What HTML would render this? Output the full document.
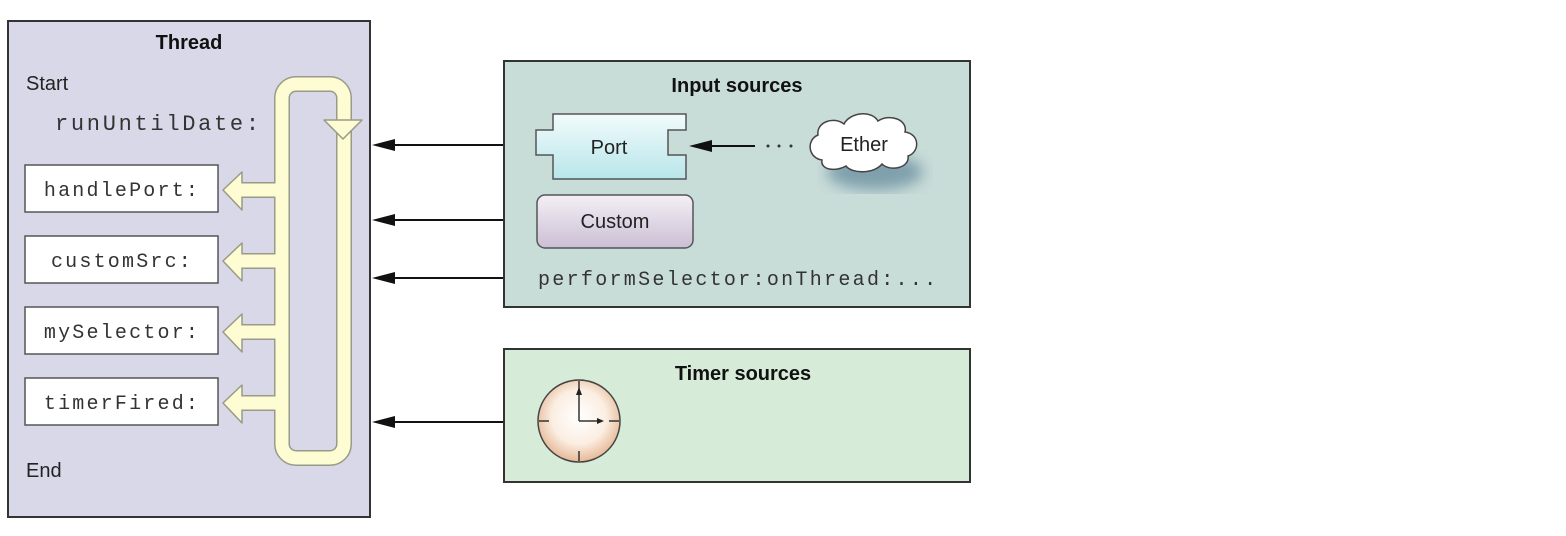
<!DOCTYPE html>
<html><head><style>
html,body{margin:0;padding:0;background:#fff;}
svg{display:block}
.t{font-family:"Liberation Sans",sans-serif;font-weight:bold;font-size:20px;fill:#111}
.s{font-family:"Liberation Sans",sans-serif;font-size:20px;fill:#222}
.m{font-family:"Liberation Mono",monospace;font-size:20px;fill:#333}
</style></head><body>
<svg width="1566" height="536" viewBox="0 0 1566 536" xmlns="http://www.w3.org/2000/svg">
<defs>
<linearGradient id="pg" x1="0" y1="0" x2="0" y2="1"><stop offset="0" stop-color="#f2fbfc"/><stop offset="1" stop-color="#b8e6ea"/></linearGradient>
<linearGradient id="cg" x1="0" y1="0" x2="0" y2="1"><stop offset="0" stop-color="#f4f0f6"/><stop offset="1" stop-color="#cbbfd4"/></linearGradient>
<radialGradient id="clk" cx="0.5" cy="0.45" r="0.55"><stop offset="0" stop-color="#fff"/><stop offset="0.6" stop-color="#fbeee2"/><stop offset="1" stop-color="#e6b896"/></radialGradient>
<filter id="bl"><feGaussianBlur stdDeviation="7"/></filter>
</defs>
<!-- Thread box -->
<rect x="8" y="21" width="362" height="496" fill="#d9d8e8" stroke="#333" stroke-width="2"/>
<text x="189" y="49" class="t" text-anchor="middle">Thread</text>
<text x="26" y="90" class="s">Start</text>
<text x="26" y="477" class="s">End</text>
<text x="55" y="130" class="m" style="font-size:22px;letter-spacing:2.7px">runUntilDate:</text>
<g fill="#fff" stroke="#555" stroke-width="1.5">
<rect x="25" y="165" width="193" height="47"/>
<rect x="25" y="236" width="193" height="47"/>
<rect x="25" y="307" width="193" height="47"/>
<rect x="25" y="378" width="193" height="47"/>
</g>
<g class="m" text-anchor="middle" style="letter-spacing:2.2px">
<text x="122" y="196">handlePort:</text>
<text x="122" y="267">customSrc:</text>
<text x="122" y="338">mySelector:</text>
<text x="122" y="409">timerFired:</text>
</g>
<!-- loop -->
<g fill="none" stroke="#9a9a88" stroke-width="16" stroke-linejoin="round">
<rect x="282" y="84" width="62" height="374" rx="14"/>
<path d="M282 190H240M282 261H240M282 332H240M282 403H240"/>
</g>
<g fill="#fdfcd2" stroke="#9a9a88" stroke-width="1.5" stroke-linejoin="round">
<polygon points="242,172 223,190 242,210"/>
<polygon points="242,243 223,261 242,281"/>
<polygon points="242,314 223,332 242,352"/>
<polygon points="242,385 223,403 242,423"/>
</g>
<g fill="none" stroke="#fdfcd2" stroke-width="13" stroke-linejoin="round">
<rect x="282" y="84" width="62" height="374" rx="14"/>
<path d="M282 190H241M282 261H241M282 332H241M282 403H241"/>
</g>
<polygon points="324,120 362,120 343,139" fill="#fdfcd2" stroke="#9a9a88" stroke-width="1.5" stroke-linejoin="round"/>
<!-- connectors -->
<g stroke="#111" stroke-width="2">
<line x1="504" y1="145" x2="385" y2="145"/>
<line x1="504" y1="220" x2="385" y2="220"/>
<line x1="504" y1="278" x2="385" y2="278"/>
<line x1="504" y1="422" x2="385" y2="422"/>
</g>
<g fill="#111">
<polygon points="372,145 395,139 395,151"/>
<polygon points="372,220 395,214 395,226"/>
<polygon points="372,278 395,272 395,284"/>
<polygon points="372,422 395,416 395,428"/>
</g>
<!-- input sources -->
<rect x="504" y="61" width="466" height="246" fill="#c8dcd8" stroke="#333" stroke-width="2"/>
<text x="737" y="92" class="t" text-anchor="middle">Input sources</text>
<path d="M553 114H686V130H668V155H686V179H553V155H536V130H553Z" fill="url(#pg)" stroke="#555" stroke-width="1.5"/>
<text x="609" y="154" class="s" text-anchor="middle">Port</text>
<rect x="537" y="195" width="156" height="53" rx="8" fill="url(#cg)" stroke="#555" stroke-width="1.5"/>
<text x="615" y="228" class="s" text-anchor="middle">Custom</text>
<line x1="755" y1="146" x2="705" y2="146" stroke="#111" stroke-width="2"/>
<polygon points="689,146 712,140 712,152" fill="#111"/>
<g fill="#333"><circle cx="768" cy="146" r="1.5"/><circle cx="779" cy="146" r="1.5"/><circle cx="791" cy="146" r="1.5"/></g>
<ellipse cx="875" cy="172" rx="48" ry="18" fill="#4f7890" opacity="0.6" filter="url(#bl)"/>
<path d="M822 160 C808 158 806 140 818 135 C816 122 834 116 844 124 C850 112 872 110 878 121 C890 113 908 120 905 132 C920 134 920 152 908 156 C910 168 890 172 882 164 C874 174 852 174 846 166 C836 172 820 170 822 160Z" fill="#fff" stroke="#444" stroke-width="1.5"/>
<text x="864" y="151" class="s" text-anchor="middle">Ether</text>
<text x="538" y="285" class="m" style="letter-spacing:2.3px">performSelector:onThread:...</text>
<!-- timer -->
<rect x="504" y="349" width="466" height="133" fill="#d7ecd8" stroke="#333" stroke-width="2"/>
<text x="743" y="380" class="t" text-anchor="middle">Timer sources</text>
<circle cx="579" cy="421" r="41" fill="url(#clk)" stroke="#444" stroke-width="1.5"/>
<g stroke="#333" stroke-width="1.5">
<line x1="579" y1="381" x2="579" y2="391"/><line x1="579" y1="451" x2="579" y2="461"/>
<line x1="539" y1="421" x2="549" y2="421"/><line x1="609" y1="421" x2="619" y2="421"/>
<line x1="579" y1="421" x2="579" y2="392"/><line x1="579" y1="421" x2="600" y2="421"/>
</g>
<polygon points="579,387 576,395 582,395" fill="#222"/>
<polygon points="604,421 597,418 597,424" fill="#222"/>
</svg>
</body></html>
